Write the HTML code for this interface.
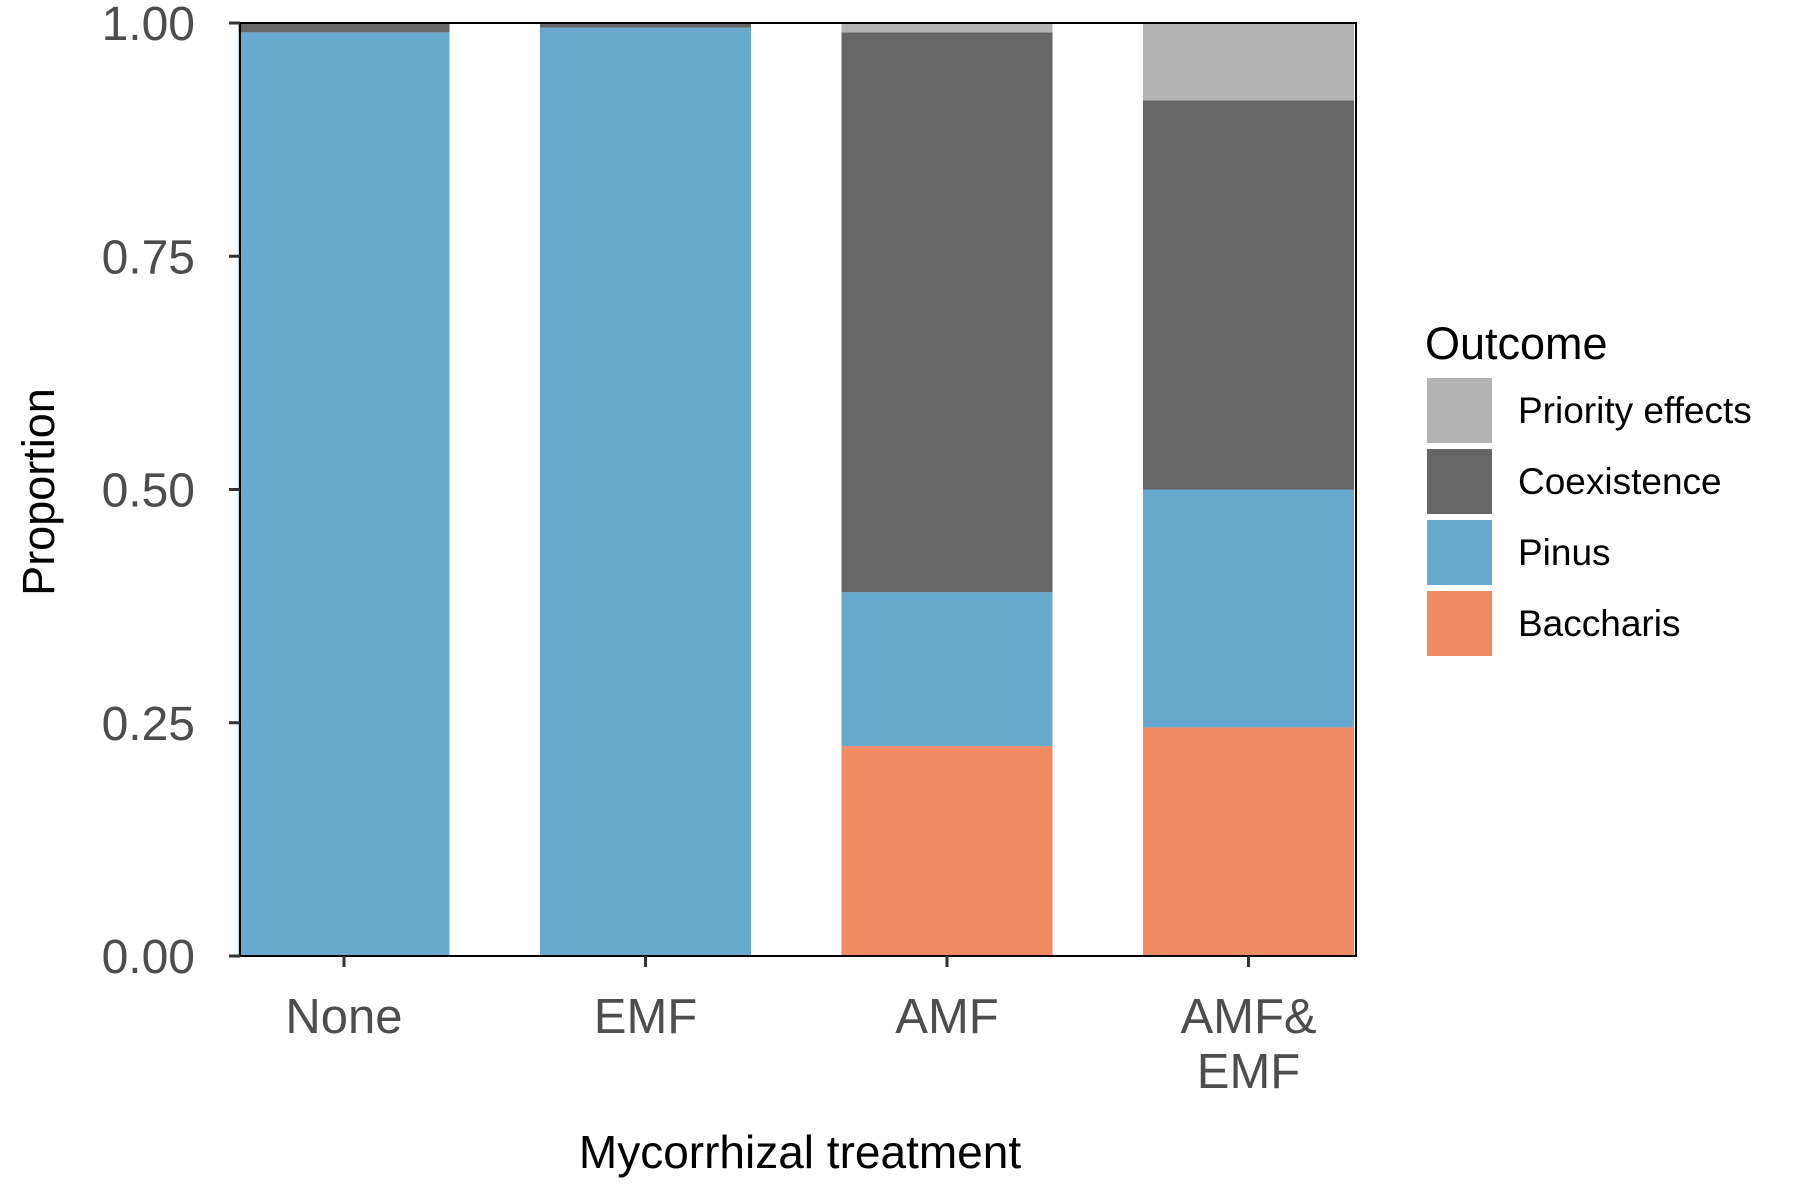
<!DOCTYPE html>
<html><head><meta charset="utf-8"><style>
html,body{margin:0;padding:0;background:#fff;}
svg{display:block;font-family:"Liberation Sans",Arial,sans-serif;}
</style></head><body>
<svg id="chart" width="1800" height="1200" viewBox="0 0 1800 1200">
<g id="bars"></g>
<g id="axes"></g>
<g id="legend"></g>
</svg>
<script>
const categories = ["None", "EMF", "AMF", "AMF&\nEMF"];
const seriesNames = ["Baccharis", "Pinus", "Coexistence", "Priority effects"];
const baccharis = [0, 0, 0.225, 0.245];
const pinus = [0.99, 0.995, 0.165, 0.255];
const coexistence = [0.01, 0.005, 0.60, 0.417];
const priority = [0, 0, 0.01, 0.083];
const yTicks = [0, 0.25, 0.5, 0.75, 1.0];
const yTickLabels = ["0.00", "0.25", "0.50", "0.75", "1.00"];
const legendOrder = ["Priority effects", "Coexistence", "Pinus", "Baccharis"];

const colors = {"Baccharis":"#ef8a62","Pinus":"#67a9cf","Coexistence":"#666666","Priority effects":"#b3b3b3"};
const NS = "http://www.w3.org/2000/svg";
const P = {left:240, right:1356, top:23, bottom:956};
const band = 301.5, barW = 211, firstCenter = 344;
function xScale(i){ return firstCenter + i*band; }
function yScale(v){ return P.bottom - v*(P.bottom-P.top); }
function mk(tag, attrs, parent){ const e=document.createElementNS(NS,tag); for(const k in attrs) e.setAttribute(k,attrs[k]); parent.appendChild(e); return e; }

const barsG = document.getElementById('bars');
const seriesVals = [baccharis, pinus, coexistence, priority];
categories.forEach((c,i)=>{
  let cum = 0;
  seriesVals.forEach((vals,s)=>{
    const v = vals[i];
    if(v>0){
      const r = mk('rect',{x:xScale(i)-barW/2, y:yScale(cum+v), width:barW, height:yScale(cum)-yScale(cum+v), fill:colors[seriesNames[s]]}, barsG);
      
      
    }
    cum += v;
  });
});

const ax = document.getElementById('axes');
const frame = mk('rect',{x:P.left,y:P.top,width:P.right-P.left,height:P.bottom-P.top,fill:'none',stroke:'#000','stroke-width':2},ax);


yTicks.forEach((t,k)=>{
  const y = yScale(t);
  const tk = mk('line',{x1:P.left-11,x2:P.left,y1:y,y2:y,stroke:'#333','stroke-width':3},ax);
  
  
  const tx = mk('text',{x:P.left-45,y:y+17,'text-anchor':'end','font-size':48,fill:'#4d4d4d'},ax);
  tx.textContent = yTickLabels[k];
  
  
});
categories.forEach((c,i)=>{
  const x = xScale(i);
  const tk = mk('line',{x1:x,x2:x,y1:P.bottom,y2:P.bottom+11,stroke:'#333','stroke-width':3},ax);
  
  
  c.split('\n').forEach((line,j)=>{
    const tx = mk('text',{x:x,y:1033+j*55,'text-anchor':'middle','font-size':49,fill:'#4d4d4d'},ax);
    tx.textContent = line;
    
    
  });
});
const xt = mk('text',{x:800,y:1168,'text-anchor':'middle','font-size':46,fill:'#000'},ax);
xt.textContent = 'Mycorrhizal treatment';


const yt = mk('text',{x:0,y:0,'text-anchor':'middle','font-size':45,fill:'#000',transform:'translate(54,492) rotate(-90)'},ax);
yt.textContent = 'Proportion';



const lg = document.getElementById('legend');
const lt = mk('text',{x:1425,y:359,'font-size':45,fill:'#000'},lg);
lt.textContent = 'Outcome';


legendOrder.forEach((name,k)=>{
  const y = 378 + k*71;
  const r = mk('rect',{x:1427,y:y,width:65,height:65,fill:colors[name]},lg);
  
  
  const t = mk('text',{x:1518,y:y+45,'font-size':37,fill:'#000'},lg);
  t.textContent = name;
  
  
});
</script>
</body></html>
